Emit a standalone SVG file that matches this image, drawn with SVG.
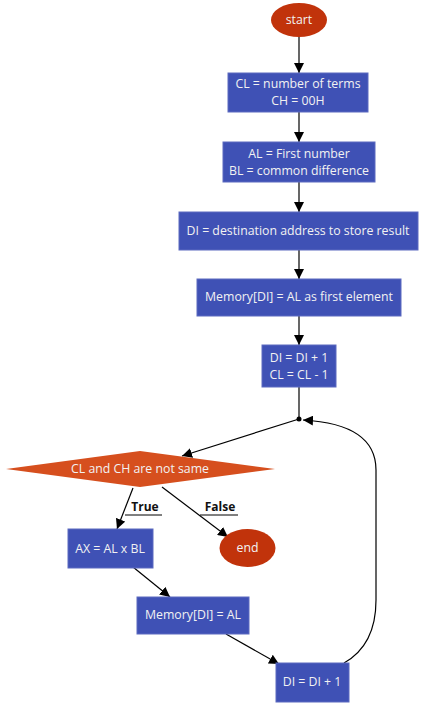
<svg xmlns="http://www.w3.org/2000/svg" width="446" height="704" viewBox="0 0 446 704">
<style>
.box{fill:#3f51b5;stroke:#5c6bc0;stroke-width:1}
.term{fill:#c1330b}
.dec{fill:#d64f1e}
text{font-family:"Open Sans","Noto Sans","DejaVu Sans",sans-serif;font-size:12.3px;fill:#f2f2f2;text-anchor:middle}
.lbl{fill:#111;font-weight:bold;font-size:12px}
.edge{stroke:#000;stroke-width:1.2;fill:none}
</style>
<defs>
<marker id="arr" viewBox="0 0 10 10" refX="10" refY="5" markerWidth="10" markerHeight="10" markerUnits="userSpaceOnUse" orient="auto">
<path d="M0,0 L10,5 L0,10 z" fill="#000"/>
</marker>
</defs>
<rect width="446" height="704" fill="#fff"/>
<g id="edges">
<line class="edge" x1="299" y1="37" x2="299" y2="73" marker-end="url(#arr)"/>
<line class="edge" x1="299" y1="112" x2="299" y2="142" marker-end="url(#arr)"/>
<line class="edge" x1="299" y1="182" x2="299" y2="212" marker-end="url(#arr)"/>
<line class="edge" x1="299" y1="250" x2="299" y2="279" marker-end="url(#arr)"/>
<line class="edge" x1="299" y1="316" x2="299" y2="345" marker-end="url(#arr)"/>
<line class="edge" x1="299" y1="387" x2="299" y2="419"/>
<circle cx="299" cy="419" r="2.5" fill="#000"/>
<line class="edge" x1="299" y1="419" x2="182" y2="456" marker-end="url(#arr)"/>
<line class="edge" x1="133" y1="488" x2="117" y2="529" marker-end="url(#arr)"/>
<line class="edge" x1="162" y1="487" x2="228" y2="537" marker-end="url(#arr)"/>
<line class="edge" x1="133" y1="567" x2="170" y2="597" marker-end="url(#arr)"/>
<line class="edge" x1="226" y1="634" x2="279" y2="664" marker-end="url(#arr)"/>
<path class="edge" d="M344 663 Q376 645 376 600 L376 470 Q376 424 303 420" marker-end="url(#arr)"/>
<line x1="125" y1="515" x2="162" y2="515" stroke="#000" stroke-width="1"/>
<text class="lbl" x="145" y="511">True</text>
<line x1="200" y1="515" x2="238" y2="515" stroke="#000" stroke-width="1"/>
<text class="lbl" x="220" y="511">False</text>
</g>
<g id="start"><ellipse class="term" cx="299" cy="20" rx="28" ry="17"/><text x="299" y="24">start</text></g>
<g id="n1"><rect class="box" x="228" y="73" width="140" height="39"/><text x="298" y="88.4">CL = number of terms</text><text x="298" y="105.2">CH = 00H</text></g>
<g id="n2"><rect class="box" x="223" y="142" width="152" height="40"/><text x="299" y="158">AL = First number</text><text x="299" y="174.8">BL = common difference</text></g>
<g id="n3"><rect class="box" x="179" y="212" width="239" height="38"/><text x="298" y="235">DI = destination address to store result</text></g>
<g id="n4"><rect class="box" x="197" y="279" width="204" height="37"/><text x="299" y="301">Memory[DI] = AL as first element</text></g>
<g id="n5"><rect class="box" x="262" y="345" width="74" height="42"/><text x="299" y="362">DI = DI + 1</text><text x="299" y="378.8">CL = CL - 1</text></g>
<g id="dec"><polygon class="dec" points="6,469 140,451 275,469 140,487"/><text x="140" y="473">CL and CH are not same</text></g>
<g id="n6"><rect class="box" x="68" y="529" width="85" height="39"/><text x="110" y="553">AX = AL x BL</text></g>
<g id="end"><ellipse class="term" cx="247.5" cy="548" rx="28" ry="19"/><text x="247.5" y="552">end</text></g>
<g id="n7"><rect class="box" x="137" y="597" width="112" height="37"/><text x="193" y="619">Memory[DI] = AL</text></g>
<g id="n8"><rect class="box" x="276" y="663" width="73" height="39"/><text x="312" y="686">DI = DI + 1</text></g>
</svg>
